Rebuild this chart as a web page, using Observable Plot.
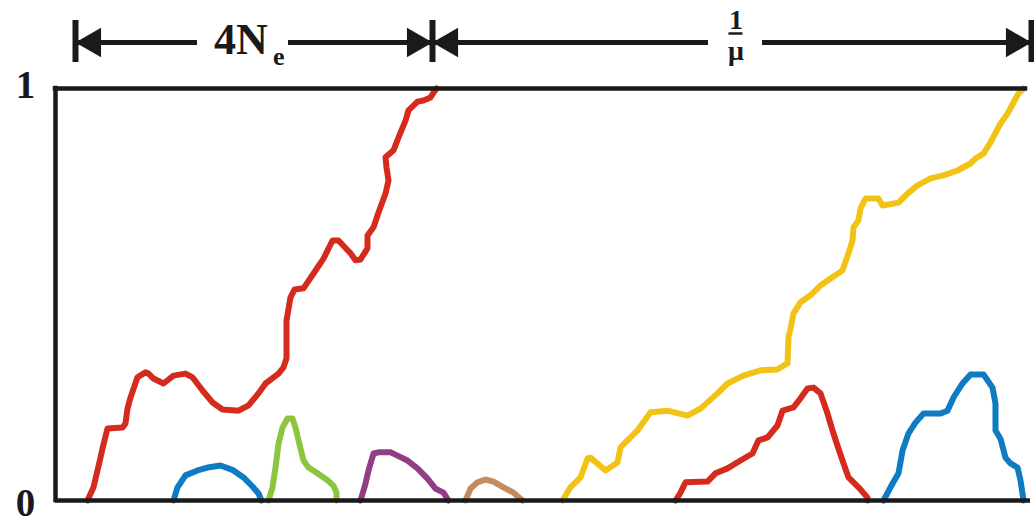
<!DOCTYPE html>
<html><head><meta charset="utf-8">
<script src="https://cdn.jsdelivr.net/npm/d3@7"></script>
<script src="https://cdn.jsdelivr.net/npm/@observablehq/plot@0.6"></script>
<style>html,body{margin:0;padding:0;background:#fff;overflow:hidden}</style>
</head><body><div id="chart"></div>
<script>
// Allele-frequency trajectories: [generation, frequency]
const red1 = [[32,0],[38,0.032],[45,0.104],[47,0.126],[52,0.175],[67,0.177],[70,0.187],[72,0.223],[75,0.25],[82,0.299],[90,0.311],[93,0.308],[98,0.296],[108,0.284],[118,0.303],[130,0.308],[137,0.299],[147,0.267],[157,0.238],[167,0.221],[183,0.218],[193,0.231],[203,0.26],[210,0.284],[223,0.308],[228,0.323],[231,0.345],[231,0.437],[235,0.493],[239,0.512],[248,0.515],[258,0.551],[268,0.587],[277,0.631],[283,0.631],[295,0.6],[300,0.583],[305,0.585],[312,0.612],[312,0.643],[318,0.663],[323,0.699],[330,0.745],[333,0.777],[331,0.808],[330,0.833],[338,0.85],[343,0.881],[350,0.922],[353,0.947],[362,0.968],[368,0.971],[375,0.978],[378,0.99],[381,1]];
const blue1 = [[118,0],[122,0.032],[130,0.061],[142,0.073],[152,0.08],[165,0.085],[178,0.073],[188,0.056],[197,0.034],[203,0.017],[206,0]];
const green1 = [[213,0],[217,0.032],[220,0.08],[223,0.138],[227,0.177],[232,0.199],[237,0.199],[240,0.177],[243,0.146],[248,0.097],[253,0.08],[262,0.066],[272,0.049],[278,0.036],[281,0.019],[281,0]];
const purple1 = [[305,0],[310,0.041],[313,0.073],[318,0.114],[323,0.117],[335,0.117],[342,0.109],[352,0.097],[362,0.078],[372,0.053],[380,0.029],[388,0.019],[393,0]];
const brown1 = [[410,0],[415,0.029],[422,0.044],[430,0.051],[438,0.046],[448,0.032],[458,0.019],[467,0]];
const yellow1 = [[507,0],[515,0.032],[525,0.056],[532,0.102],[535,0.104],[550,0.073],[562,0.092],[565,0.129],[575,0.153],[582,0.17],[595,0.214],[612,0.218],[632,0.206],[645,0.223],[662,0.26],[672,0.284],[688,0.303],[705,0.316],[722,0.318],[732,0.333],[733,0.396],[735,0.417],[738,0.454],[745,0.481],[755,0.498],[765,0.522],[775,0.539],[787,0.558],[793,0.6],[797,0.631],[798,0.663],[803,0.68],[805,0.709],[810,0.733],[823,0.733],[827,0.716],[843,0.723],[852,0.745],[862,0.765],[875,0.782],[888,0.789],[902,0.801],[915,0.818],[920,0.83],[928,0.842],[935,0.869],[945,0.915],[952,0.939],[958,0.966],[963,0.988],[968,1]];
const red2 = [[620,0],[625,0.019],[630,0.044],[652,0.046],[660,0.066],[672,0.078],[685,0.097],[697,0.114],[703,0.146],[712,0.153],[722,0.182],[727,0.218],[738,0.226],[745,0.248],[752,0.272],[758,0.274],[765,0.26],[772,0.211],[777,0.17],[782,0.133],[787,0.097],[793,0.056],[803,0.032],[812,0.007],[812,0]];
const blue2 = [[828,0],[835,0.032],[843,0.066],[847,0.121],[853,0.163],[860,0.189],[868,0.211],[885,0.211],[892,0.218],[898,0.25],[907,0.284],[915,0.306],[928,0.306],[937,0.274],[940,0.235],[940,0.17],[945,0.15],[950,0.104],[955,0.09],[962,0.08],[965,0.049],[968,0]];

const seriesNames = ["red1","blue1","green1","purple1","brown1","yellow1","red2","blue2"];
const seriesData = [red1, blue1, green1, purple1, brown1, yellow1, red2, blue2];
const seriesColors = ["#d52b1e","#0d7cc1","#8cc63f","#923e84","#c38b5f","#f2c314","#d52b1e","#0d7cc1"];

// Time-span annotations (generations)
const spanStart = [20, 377];
const spanEnd = [377, 976];
const spanLabels = ["4N", "1/μ"];
const yTicks = [0, 1];
const xMax = 975;

const rows = seriesNames.flatMap((s, i) => seriesData[i].map(([t, f]) => ({series: s, t, f})));
const spans = spanStart.map((a, i) => ({x1: a, x2: spanEnd[i], label: spanLabels[i], mid: (a + spanEnd[i]) / 2}));
const ends = [...spanStart, spanEnd[spanEnd.length - 1]];
const serif = "Liberation Serif, Times New Roman, serif";
const one = () => 1;
const ink = "#1a1a1a";
const tickText = {x: () => 0, y: d => d, text: d => String(d), dx: -30, fontSize: 39, fontWeight: "bold", fontFamily: serif, fill: ink};

const chart = Plot.plot({
  width: 1034, height: 524,
  marginTop: 88, marginBottom: 24, marginLeft: 55, marginRight: 4,
  x: {domain: [0, xMax], axis: null},
  y: {domain: [0, 1], axis: null},
  color: {domain: seriesNames, range: seriesColors},
  marks: [
    Plot.line(rows, {x: "t", y: "f", z: "series", stroke: "series", strokeWidth: 6, strokeLinejoin: "round", strokeLinecap: "round"}),
    // frame: left, top, bottom
    Plot.ruleX([0], {x: d => d, y1: () => 0, y2: one, stroke: ink, strokeWidth: 4.5, strokeLinecap: "square"}),
    Plot.ruleY([1], {y: d => d, x1: () => 0, x2: () => 970, stroke: ink, strokeWidth: 4.5, strokeLinecap: "square"}),
    Plot.ruleY([0], {y: d => d, x1: () => 0, x2: () => xMax, stroke: ink, strokeWidth: 4.5}),
    // y tick labels
    Plot.text(yTicks.filter(d => d === 1), {...tickText, dy: -3}),
    Plot.text(yTicks.filter(d => d === 0), {...tickText, dy: 3}),
    // span arrows
    Plot.link(spans, {x1: "x1", x2: "x2", y1: one, y2: one, dy: -46, stroke: ink, strokeWidth: 5}),
    Plot.ruleX(ends, {x: d => d, y1: one, y2: one, insetTop: -21, insetBottom: -21, dy: -47, stroke: ink, strokeWidth: 6}),
    Plot.dot(spans, {x: "x1", y: one, symbol: "triangle", r: 11, rotate: -90, dx: 17, dy: -46, fill: ink, stroke: null}),
    Plot.dot(spans, {x: "x2", y: one, symbol: "triangle", r: 11, rotate: 90, dx: -17, dy: -46, fill: ink, stroke: null}),
    // gaps behind labels
    Plot.ruleY(spans.slice(0, 1), {y: one, x1: "mid", x2: "mid", insetLeft: -56.5, insetRight: -34.5, dy: -46, stroke: "white", strokeWidth: 12}),
    Plot.ruleY(spans.slice(1, 2), {y: one, x1: "mid", x2: "mid", insetLeft: -23.5, insetRight: -30.5, dy: -46, stroke: "white", strokeWidth: 12}),
    // 4Ne label
    Plot.text(spans.slice(0, 1), {x: "mid", y: one, text: "label", textAnchor: "start", lineAnchor: "top", dx: -40, dy: -66, fontSize: 44, fontWeight: "bold", fontFamily: serif, fill: ink}),
    Plot.text(spans.slice(0, 1), {x: "mid", y: one, text: () => "e", textAnchor: "start", lineAnchor: "top", dx: 19, dy: -42, fontSize: 26, fontWeight: "bold", fontFamily: serif, fill: ink}),
    // 1/μ label as a stacked fraction
    Plot.text(spans.slice(1, 2), {x: "mid", y: one, text: d => d.label.replace("/", "\n"), textAnchor: "middle", lineAnchor: "top", lineHeight: 1.12, dx: 4, dy: -82, fontSize: 28, fontWeight: "bold", fontFamily: serif, fill: ink}),
    Plot.ruleY(spans.slice(1, 2), {y: one, x1: "mid", x2: "mid", insetLeft: -3, insetRight: -11, dy: -55, stroke: ink, strokeWidth: 2.5})
  ]
});
document.getElementById("chart").appendChild(chart);
</script>
</body></html>
